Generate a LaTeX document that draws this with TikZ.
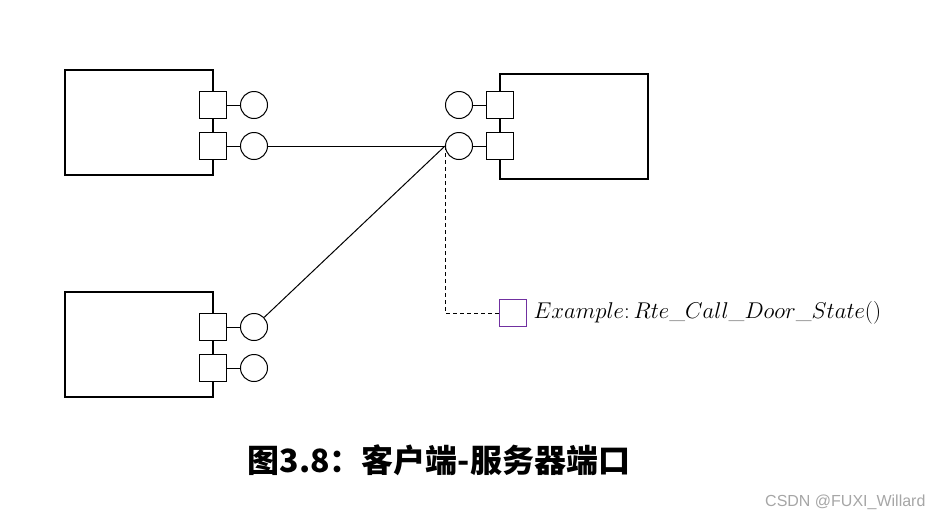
\documentclass[tikz,border=0pt]{standalone}
\usepackage{graphicx}
\usepackage{fontspec}
\newfontfamily\cjk{Noto Sans CJK SC}
\setsansfont{Liberation Sans}
\usetikzlibrary{positioning}
\definecolor{notepurple}{RGB}{112,48,160}

\begin{document}
\begin{tikzpicture}[x=1pt,y=-1pt]
  % Define styles for nodes
  \tikzset{
    swcnode/.style={rectangle, draw, line width=2pt, minimum width=148pt, minimum height=105pt, inner sep=0pt},
    portnode/.style={rectangle, draw, fill=white, line width=1pt, minimum size=27pt, inner sep=0pt},
    ifnode/.style={circle, draw, fill=white, line width=1pt, minimum size=27pt, inner sep=0pt},
    notenode/.style={rectangle, draw=notepurple, line width=1.8pt, minimum size=27pt, inner sep=0pt},
    link/.style={line width=1pt}
  }
  \useasboundingbox (0,0) rectangle (942,520);

  % Create the three software components
  \node[swcnode] (swc1) at (139,122.5) {};
  \node[swcnode] (swc2) at (573.5,126) {};
  \node[swcnode] (swc3) at (139,344) {};

  % Ports on the components with their interfaces
  \node[portnode] (porta1) at (213,105) {};
  \node[portnode] (portb1) at (213,146) {};
  \node[ifnode, right=13pt of porta1] (ifa1) {};
  \node[ifnode, right=13pt of portb1] (ifb1) {};

  \node[portnode] (porta2) at (500,105) {};
  \node[portnode] (portb2) at (500,146) {};
  \node[ifnode, left=13pt of porta2] (ifa2) {};
  \node[ifnode, left=13pt of portb2] (ifb2) {};

  \node[portnode] (porta3) at (213,327) {};
  \node[portnode] (portb3) at (213,368) {};
  \node[ifnode, right=13pt of porta3] (ifa3) {};
  \node[ifnode, right=13pt of portb3] (ifb3) {};

  % Draw the edges connecting ports and interfaces
  \draw[link] (porta1) -- (ifa1);
  \draw[link] (portb1) -- (ifb1);
  \draw[link] (porta2) -- (ifa2);
  \draw[link] (portb2) -- (ifb2);
  \draw[link] (porta3) -- (ifa3);
  \draw[link] (portb3) -- (ifb3);

  % Client to server connections
  \draw[link] (ifb1) -- (ifb2.west);
  \draw[link] (ifa3) -- (ifb2.west);

  % Note with the example call
  \node[notenode] (note) at (513,313) {};
  \node[right=6pt of note, inner sep=0pt, font=\fontsize{20.74}{25}\selectfont] (notetext) {\scalebox{1.1}{$Example\colon Rte\_Call\_Door\_State()$}};
  \draw[link, dash pattern=on 4pt off 3pt] (ifb2.west) |- (note);

  % Caption and watermark
  \node[font=\cjk\bfseries\fontsize{32}{38}\selectfont] (caption) at (439,460) {图3.8：客户端-服务器端口};
  \node[anchor=east, text=gray!70, font=\sffamily\fontsize{16}{19}\selectfont] (mark) at (929,502) {CSDN @FUXI\_Willard};
\end{tikzpicture}
\end{document}
